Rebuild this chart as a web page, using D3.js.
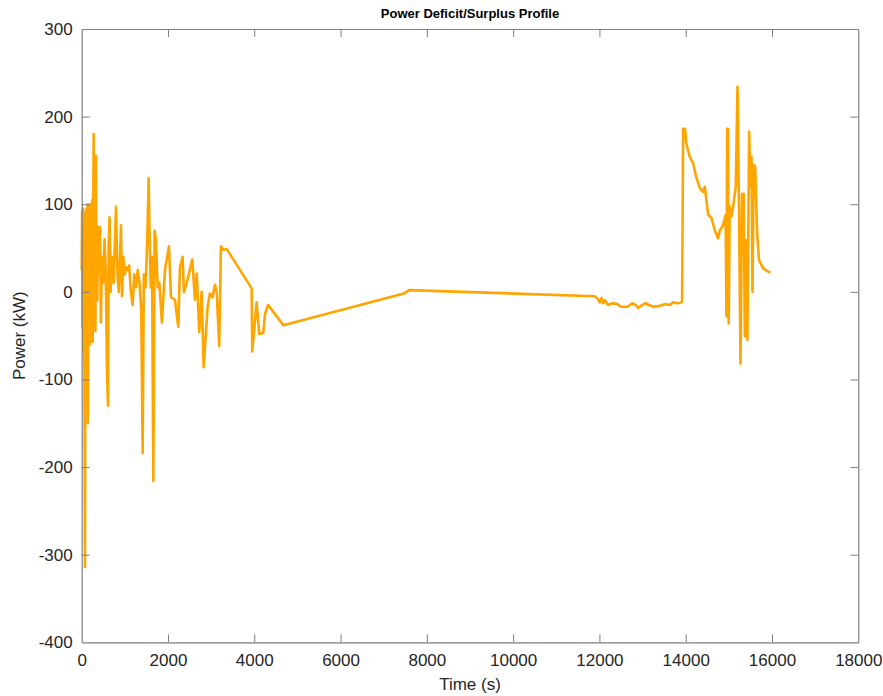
<!DOCTYPE html>
<html>
<head>
<meta charset="utf-8">
<script src="https://cdn.jsdelivr.net/npm/d3@7"></script>
<style>
  html, body { margin: 0; padding: 0; background: #fff; }
  svg text { font-family: "Liberation Sans", Arial, Helvetica, sans-serif; }
</style>
</head>
<body>
<svg id="chart" width="883" height="696"></svg>
<script>
// Power profile samples: time in seconds, power in kW
const timeSec = [
  0, 10, 20, 30, 40, 50, 60, 77, 88, 100, 112, 125, 135, 145, 155, 165, 175, 185, 195, 205,
  215, 225, 235, 245, 255, 265, 278, 288, 300, 310, 318, 331, 342, 352, 362, 375, 390, 405, 424, 445,
  470, 500, 530, 560, 585, 610, 625, 645, 670, 700, 740, 795, 810, 830, 860, 890,
  911, 935, 965, 1000, 1030, 1060, 1100, 1140, 1180, 1220, 1260, 1300, 1340, 1380, 1413, 1440, 1480, 1520, 1552, 1575,
  1600, 1630, 1660, 1690, 1720, 1760, 1800, 1860, 1930, 2023, 2069, 2162, 2238, 2278, 2340, 2370, 2433, 2563, 2625, 2665,
  2725, 2780, 2827, 2919, 2973, 3035, 3089, 3128, 3188, 3227, 3281, 3360, 3939, 3953, 4055, 4115, 4208, 4250, 4320, 4400,
  4671, 7468, 7590, 11890, 11960, 12010, 12050, 12090, 12130, 12200, 12300, 12420, 12500, 12650, 12760, 12840, 12900, 12960, 13070, 13150,
  13250, 13400, 13530, 13640, 13700, 13800, 13880, 13916, 13940, 13985, 14010, 14094, 14170, 14250, 14330, 14400, 14442, 14520, 14600, 14674,
  14750, 14790, 14866, 14925, 14944, 14960, 14980, 14997, 15020, 15060, 15097, 15160, 15200, 15235, 15270, 15305, 15345, 15370, 15410, 15430,
  15470, 15500, 15525, 15548, 15575, 15610, 15654, 15700, 15790, 15910, 15964
];
const powerKW = [
  25, 92, -40, 95, -70, 91, -20, -314, 60, -30, 95, -60, 100, -150, 60, 88, -40, 100, -60, 95,
  -10, 100, -55, 105, -57, 60, 180, 40, -20, 90, -45, 155, 10, 75, -10, 74, 20, 60, 74, -35,
  40, 10, 60, 20, -89, -130, 50, 85, 0, 40, 10, 97, 60, 20, 0, 40,
  76, -5, 40, 20, 28, 25, 30, 0, -15, 20, 5, 25, 10, -20, -184, 20, 5, 59, 130, 60,
  5, 40, -216, 70, 60, 5, 10, -35, 25, 52, -6, -9, -40, 28, 40, 0, 10, 37, -9, 21,
  -46, 0, -86, -17, -2, -6, 8, 0, -62, 52, 48, 49, 4, -68, -12, -48, -47, -25, -15, -20,
  -38, -2, 2, -5, -8, -12, -7, -13, -9.5, -15, -13, -14, -17, -17, -13, -15, -18.5, -16, -13, -15,
  -17, -16, -14, -15, -12, -13, -12.4, -11, 186, 186, 170, 154, 147, 130, 118, 114, 120, 88, 84, 70,
  61, 70, 76, 88, -28, 186, 186, -36, 97, 86, 97, 120, 234, 93, -82, 112, 112, -51, 59, -55,
  183, 120, 154, 0, 145, 143, 67, 36, 27, 23, 22
];

const xTicks = [0, 2000, 4000, 6000, 8000, 10000, 12000, 14000, 16000, 18000];
const yTicks = [-400, -300, -200, -100, 0, 100, 200, 300];

const titleText = "Power Deficit/Surplus Profile";
const xLabel = "Time (s)";
const yLabel = "Power (kW)";

const plot = { left: 81.7, right: 858.3, top: 29, bottom: 642.3 };
const tickLen = 8;
const axisColor = "#7f7f7f";
const textColor = "#262626";

const svg = d3.select("#chart");

const x = d3.scaleLinear().domain([0, 18000]).range([plot.left, plot.right]);
const y = d3.scaleLinear().domain([-400, 300]).range([plot.bottom, plot.top]);

// Data line
const data = timeSec.map((t, i) => [t, powerKW[i]]);
svg.append("path")
  .datum(data)
  .attr("fill", "none")
  .attr("stroke", "#ffa500")
  .attr("stroke-width", 2.6)
  .attr("stroke-linejoin", "round")
  .attr("d", d3.line().x(d => x(d[0])).y(d => y(d[1])));

// Axes: bottom/left with labels, top/right mirror ticks, all ticks pointing inward
function styleAxis(g) {
  g.select(".domain").attr("stroke", axisColor).attr("stroke-width", 1.2);
  g.selectAll(".tick line").attr("stroke", axisColor).attr("stroke-width", 1);
  g.selectAll(".tick text").attr("fill", textColor).attr("font-size", 17);
}

const plainNumber = d => String(d);

const gx = svg.append("g")
  .attr("transform", `translate(0,${plot.bottom})`)
  .call(d3.axisBottom(x).tickValues(xTicks).tickFormat(plainNumber)
    .tickSizeInner(-tickLen).tickSizeOuter(0).tickPadding(12));
styleAxis(gx);

const gxTop = svg.append("g")
  .attr("transform", `translate(0,${plot.top})`)
  .call(d3.axisTop(x).tickValues(xTicks).tickFormat("")
    .tickSizeInner(-tickLen).tickSizeOuter(0));
styleAxis(gxTop);

const gy = svg.append("g")
  .attr("transform", `translate(${plot.left},0)`)
  .call(d3.axisLeft(y).tickValues(yTicks).tickFormat(plainNumber)
    .tickSizeInner(-tickLen).tickSizeOuter(0).tickPadding(9));
styleAxis(gy);

const gyRight = svg.append("g")
  .attr("transform", `translate(${plot.right},0)`)
  .call(d3.axisRight(y).tickValues(yTicks).tickFormat("")
    .tickSizeInner(-tickLen).tickSizeOuter(0));
styleAxis(gyRight);

// Hide end ticks that coincide with the box edges
gx.selectAll(".tick").filter(d => d === 0 || d === 18000).select("line").remove();
gxTop.selectAll(".tick").filter(d => d === 0 || d === 18000).select("line").remove();
gy.selectAll(".tick").filter(d => d === -400 || d === 300).select("line").remove();
gyRight.selectAll(".tick").filter(d => d === -400 || d === 300).select("line").remove();

// Title and axis labels
svg.append("text")
  .attr("x", (plot.left + plot.right) / 2)
  .attr("y", 18)
  .attr("text-anchor", "middle")
  .attr("font-size", 13)
  .attr("font-weight", "bold")
  .attr("fill", "#000")
  .text(titleText);

svg.append("text")
  .attr("x", (plot.left + plot.right) / 2)
  .attr("y", 690)
  .attr("text-anchor", "middle")
  .attr("font-size", 17)
  .attr("fill", textColor)
  .text(xLabel);

svg.append("text")
  .attr("transform", `translate(25,${(plot.top + plot.bottom) / 2}) rotate(-90)`)
  .attr("text-anchor", "middle")
  .attr("font-size", 17)
  .attr("fill", textColor)
  .text(yLabel);
</script>
</body>
</html>
